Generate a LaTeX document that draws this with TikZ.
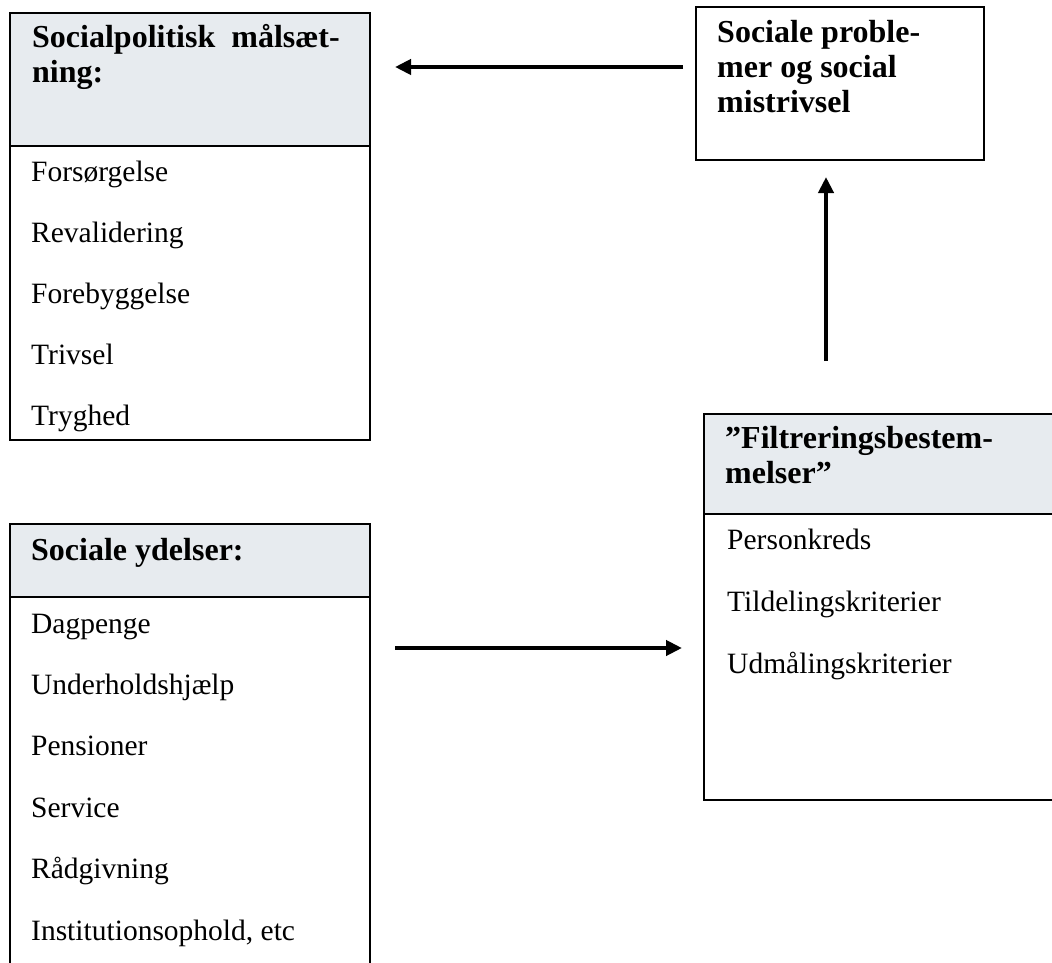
\documentclass[tikz,border=0pt]{standalone}
\usepackage{fontspec}
\setmainfont{Liberation Serif}
\usetikzlibrary{positioning,arrows.meta}
\definecolor{headgray}{RGB}{231,235,239}
\tikzset{
  boxline/.style={draw,line width=1.3pt,inner sep=0pt,outer sep=0pt},
  headbox/.style={boxline,fill=headgray,anchor=north west},
  bodybox/.style={boxline,anchor=north},
  headtxt/.style={anchor=base west,inner sep=0pt,align=left,
    font=\fontsize{32}{35}\selectfont\bfseries},
  itemtxt/.style={anchor=base west,inner sep=0pt,
    font=\fontsize{29.5}{34}\selectfont},
  flow/.style={line width=4.8pt,-{Triangle[length=16pt,width=15pt]}}
}
\begin{document}
\begin{tikzpicture}[x=1pt,y=-1pt]
  \clip (0,0) rectangle (1052,963);
  % Socialpolitisk maalsaetning (base = last line)
  \node[headbox,minimum width=360pt,minimum height=133pt] (head1) at (10,13) {};
  \node[bodybox,minimum width=360pt,minimum height=294pt,below=0pt of head1] (body1) {};
  \node[headtxt] (title1) at (32,83) {Socialpolitisk\hspace{0.5em}målsæt-\\ning:};
  \foreach \txt [count=\i] in {Forsørgelse,Revalidering,Forebyggelse,Trivsel,Tryghed}
    \node[itemtxt] (goal-\i) at (31,{182+60.75*(\i-1)}) {\txt};
  % Sociale problemer
  \node[headbox,fill=none,minimum width=288pt,minimum height=153pt] (prob) at (696,7) {};
  \node[headtxt] (title2) at (717,113) {Sociale proble-\\mer og social\\mistrivsel};
  % Filtreringsbestemmelser
  \node[headbox,minimum width=380pt,minimum height=100pt] (head3) at (704,414) {};
  \node[bodybox,minimum width=380pt,minimum height=286pt,below=0pt of head3] (body3) {};
  \node[headtxt] (title3) at (725,483) {”Filtreringsbestem-\\melser”};
  \foreach \txt [count=\i] in {Personkreds,Tildelingskriterier,Udmålingskriterier}
    \node[itemtxt] (filter-\i) at (727,{549+62*(\i-1)}) {\txt};
  % Sociale ydelser
  \node[headbox,minimum width=360pt,minimum height=73pt] (head4) at (10,524) {};
  \node[bodybox,minimum width=360pt,minimum height=420pt,below=0pt of head4] (body4) {};
  \node[headtxt] (title4) at (31,560) {Sociale ydelser:};
  \foreach \txt [count=\i] in {Dagpenge,Underholdshjælp,Pensioner,Service,Rådgivning,{Institutionsophold, etc}}
    \node[itemtxt] (benefit-\i) at (31,{633+61.4*(\i-1)}) {\txt};
  % arrows
  \draw[flow,shorten <=13pt,shorten >=25pt] (prob.west |- 0,67) -- (head1.east |- 0,67);
  \draw[flow,shorten <=53pt,shorten >=17pt] (head3.north -| 826,0) -- (prob.south -| 826,0);
  \draw[flow,shorten <=25pt,shorten >=22pt] (body4.east |- 0,648) -- (body3.west |- 0,648);
\end{tikzpicture}
\end{document}
